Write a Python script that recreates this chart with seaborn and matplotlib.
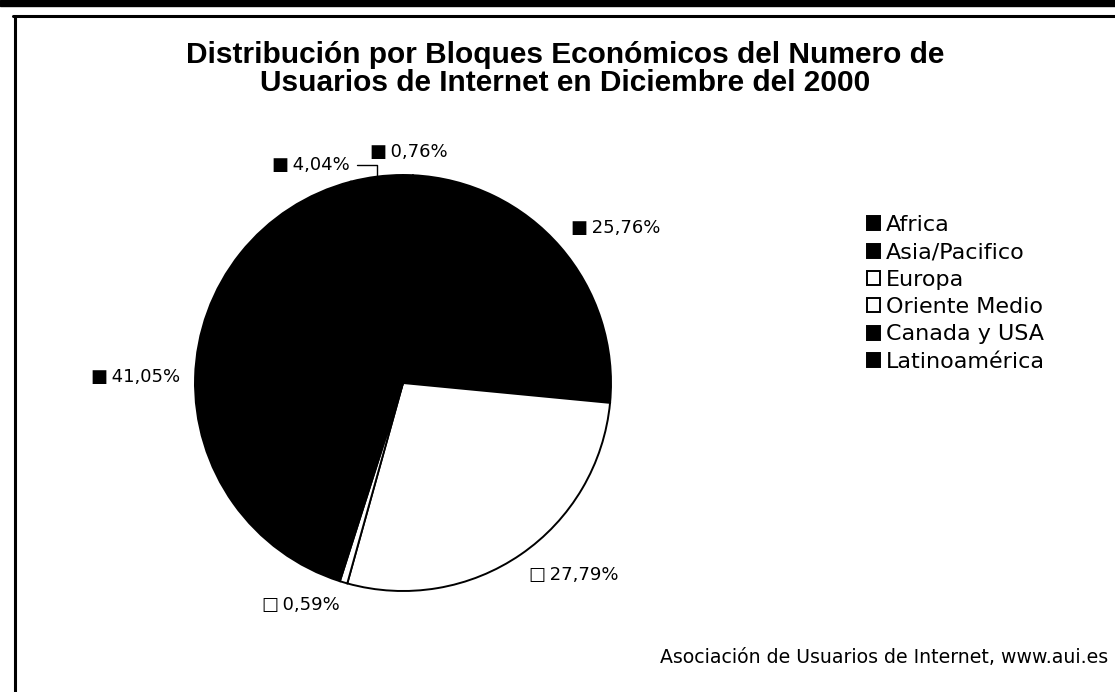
import numpy as np
import pandas as pd
import seaborn as sns
import matplotlib.pyplot as plt
from matplotlib import font_manager
from matplotlib.lines import Line2D
from matplotlib.patches import Rectangle

# Data (Dec 2000, share of internet users by economic bloc)
regions = ['Africa', 'Asia/Pacifico', 'Europa', 'Oriente Medio',
           'Canada y USA', 'Latinoamérica']
shares = [0.76, 25.76, 27.79, 0.59, 41.05, 4.04]
pct_labels = ['0,76%', '25,76%', '27,79%', '0,59%', '41,05%', '4,04%']
title_lines = ['Distribución por Bloques Económicos del Numero de',
               'Usuarios de Internet en Diciembre del 2000']
source = 'Asociación de Usuarios de Internet, www.aui.es'

df = pd.DataFrame({'region': regions, 'share': shares, 'label': pct_labels})

sns.set_theme(style='white')
plt.rcParams['font.family'] = ['DejaVu Sans']
plt.rcParams['text.color'] = 'black'

# pick the regular-width Arial-like bold face (avoid the Narrow variant)
title_font = font_manager.FontProperties(family='DejaVu Sans', weight='bold',
                                         size=21.5)
for f in font_manager.fontManager.ttflist:
    if (f.name == 'Liberation Sans' and f.weight in (700, 'bold')
            and 'Narrow' not in f.fname and f.style == 'normal'):
        title_font = font_manager.FontProperties(fname=f.fname, size=21.5)
        break

# black & white print look
fill = ['black', 'black', 'white', 'white', 'black', 'black']

W, H = 1115, 692
fig = plt.figure(figsize=(W / 100, H / 100), dpi=100)
fig.patch.set_facecolor('white')

# pie centre and radius in pixels
cx, cy, R = 403, 383, 208
ax = fig.add_axes([(cx - R) / W, (H - cy - R) / H, 2 * R / W, 2 * R / H])
wedges, _ = ax.pie(df.share, colors=fill, startangle=90, counterclock=False,
                   wedgeprops={'edgecolor': 'black', 'linewidth': 1.4,
                               'clip_on': False})
ax.set_xlim(-1, 1)
ax.set_ylim(-1, 1)
ax.set_aspect('equal')

# percentage labels, Excel style with a small colour square
for w, lab, col, reg in zip(wedges, df.label, fill, df.region):
    mid = np.deg2rad((w.theta1 + w.theta2) / 2)
    x, y = np.cos(mid), np.sin(mid)
    mark = '\u25a0' if col == 'black' else '\u25a1'
    txt = mark + '\u2009' + lab
    if reg == 'Latinoamérica':
        ax.annotate(txt, xy=(x, y), xytext=(-27, 12), textcoords='offset pixels',
                    ha='right', va='center', fontsize=13,
                    arrowprops=dict(arrowstyle='-', color='black', lw=1,
                                    shrinkA=3, shrinkB=0,
                                    connectionstyle='angle,angleA=0,angleB=90,rad=0'))
        continue
    d = 1.07
    ha = 'left' if x > 0.2 else ('right' if x < -0.2 else 'center')
    va = 'bottom' if y > 0.2 else ('top' if y < -0.2 else 'center')
    ax.text(d * x, d * y, txt, ha=ha, va=va, fontsize=13)

leg = fig.legend(wedges, df.region, loc='center left',
                 bbox_to_anchor=(867 / W, 1 - 293.5 / H),
                 bbox_transform=fig.transFigure, frameon=False,
                 fontsize=16, handlelength=0.6, handleheight=0.6,
                 handletextpad=0.25, labelspacing=0.33, borderpad=0,
                 borderaxespad=0, labelcolor='black')

# title, two lines placed on their baselines
fig.text(565 / W, 1 - 63 / H, title_lines[0], ha='center', va='baseline',
         fontproperties=title_font)
fig.text(565 / W, 1 - 91 / H, title_lines[1], ha='center', va='baseline',
         fontproperties=title_font)

fig.text(1108 / W, 1 - 663 / H, source, ha='right', va='baseline', fontsize=13.6)

# frame of the scanned page
fig.add_artist(Rectangle((0, 1 - 6 / H), 1, 6 / H, color='black',
                         transform=fig.transFigure))
fig.add_artist(Line2D([13 / W, 1], [1 - 16 / H, 1 - 16 / H], color='black',
                      lw=2.2, transform=fig.transFigure))
fig.add_artist(Line2D([14.5 / W, 14.5 / W], [0, 1 - 16 / H], color='black',
                      lw=2.2, transform=fig.transFigure))

fig.savefig('out.png', dpi=100)
